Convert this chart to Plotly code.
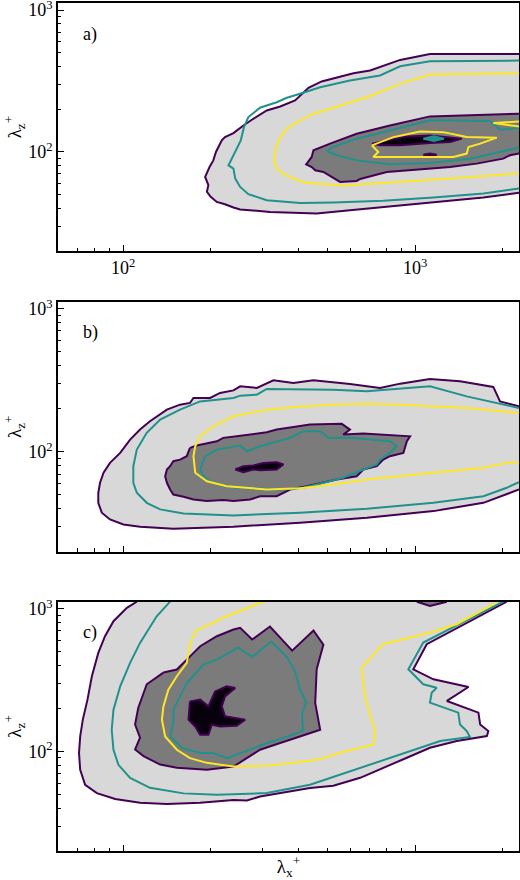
import plotly.graph_objects as go
from plotly.subplots import make_subplots

# ---------------- data (log10 of lambda_x^+, log10 of lambda_z^+) ----------------
# Panel a
A_OUTER_LX = [3.356, 3.051, 2.949, 2.846, 2.789, 2.680, 2.635, 2.589, 2.538, 2.492, 2.446, 2.412, 2.378, 2.349, 2.338, 2.318, 2.309, 2.296, 2.281, 2.292, 2.287, 2.300, 2.321, 2.349, 2.378, 2.401, 2.503, 2.663, 2.777, 2.891, 3.006, 3.120, 3.234, 3.356]
A_OUTER_LZ = [2.691, 2.691, 2.649, 2.574, 2.555, 2.497, 2.452, 2.363, 2.321, 2.293, 2.234, 2.187, 2.133, 2.105, 2.082, 2.000, 1.941, 1.894, 1.824, 1.766, 1.719, 1.684, 1.648, 1.632, 1.609, 1.595, 1.578, 1.567, 1.590, 1.613, 1.632, 1.656, 1.679, 1.712]
A_TEAL1_LX = [3.356, 3.051, 2.949, 2.880, 2.777, 2.675, 2.606, 2.561, 2.526, 2.469, 2.429, 2.414, 2.403, 2.384, 2.372, 2.361, 2.378, 2.384, 2.401, 2.429, 2.492, 2.606, 2.720, 2.891, 3.063, 3.234, 3.356]
A_TEAL1_LZ = [2.644, 2.639, 2.604, 2.539, 2.504, 2.456, 2.410, 2.382, 2.351, 2.312, 2.246, 2.175, 2.082, 2.000, 1.953, 1.906, 1.883, 1.813, 1.754, 1.703, 1.660, 1.641, 1.644, 1.656, 1.679, 1.708, 1.743]
A_YEL1_LX = [3.356, 3.051, 2.949, 2.835, 2.720, 2.652, 2.606, 2.561, 2.538, 2.524, 2.517, 2.526, 2.549, 2.583, 2.629, 2.754, 2.891, 3.063, 3.234, 3.356]
A_YEL1_LZ = [2.555, 2.546, 2.480, 2.386, 2.312, 2.270, 2.223, 2.164, 2.105, 2.035, 1.941, 1.883, 1.848, 1.813, 1.782, 1.764, 1.782, 1.808, 1.831, 1.848]
A_DARK_LX = [3.356, 3.051, 2.914, 2.800, 2.709, 2.652, 2.646, 2.627, 2.646, 2.658, 2.686, 2.720, 2.743, 2.800, 2.812, 2.903, 3.006, 3.120, 3.211, 3.302, 3.325, 3.356]
A_DARK_LZ = [2.270, 2.251, 2.187, 2.129, 2.059, 2.012, 1.965, 1.913, 1.894, 1.871, 1.859, 1.820, 1.789, 1.796, 1.810, 1.859, 1.876, 1.894, 1.918, 1.953, 1.977, 1.989]
A_TEAL2_LX = [3.356, 3.291, 3.257, 3.051, 2.914, 2.800, 2.720, 2.698, 2.732, 2.800, 2.914, 3.051, 3.188, 3.291, 3.356]
A_TEAL2_LZ = [2.171, 2.157, 2.218, 2.223, 2.152, 2.094, 2.035, 2.007, 1.977, 1.941, 1.913, 1.923, 1.953, 2.000, 2.031]
A_BLACK_LX = [2.852, 2.914, 2.972, 3.051, 3.120, 3.160, 3.120, 3.051, 2.949, 2.880]
A_BLACK_LZ = [2.059, 2.087, 2.110, 2.117, 2.105, 2.094, 2.070, 2.063, 2.047, 2.047]
A_TEALDOT_LX = [3.028, 3.064, 3.099, 3.064]
A_TEALDOT_LZ = [2.094, 2.110, 2.094, 2.077]
A_BLACKDOT_LX = [3.028, 3.051, 3.074, 3.051]
A_BLACKDOT_LZ = [1.980, 1.990, 1.980, 1.969]
A_YEL2_LX = [2.852, 2.926, 3.017, 3.097, 3.177, 3.280, 3.223, 3.183, 3.177, 3.131, 2.857, 2.874]
A_YEL2_LZ = [2.047, 2.105, 2.145, 2.140, 2.105, 2.101, 2.059, 2.035, 1.989, 1.965, 1.965, 2.000]
A_YEL3_LX = [3.356, 3.268, 3.356]
A_YEL3_LZ = [2.215, 2.204, 2.180]

# Panel b
B_OUTER_LX = [3.356, 3.291, 3.268, 3.154, 3.051, 2.949, 2.880, 2.777, 2.652, 2.583, 2.515, 2.458, 2.401, 2.378, 2.332, 2.298, 2.241, 2.229, 2.195, 2.150, 2.092, 2.058, 2.024, 1.990, 1.955, 1.933, 1.921, 1.915, 1.915, 1.927, 1.955, 2.001, 2.058, 2.172, 2.378, 2.606, 2.835, 3.063, 3.234, 3.314, 3.356]
B_OUTER_LZ = [2.318, 2.353, 2.454, 2.493, 2.510, 2.477, 2.447, 2.475, 2.500, 2.482, 2.500, 2.447, 2.458, 2.430, 2.412, 2.377, 2.377, 2.342, 2.330, 2.295, 2.214, 2.156, 2.086, 1.993, 1.923, 1.854, 1.784, 1.714, 1.644, 1.575, 1.528, 1.493, 1.477, 1.463, 1.477, 1.505, 1.540, 1.586, 1.644, 1.702, 1.737]
B_TEAL1_LX = [3.356, 3.177, 3.051, 2.949, 2.835, 2.720, 2.606, 2.492, 2.458, 2.401, 2.378, 2.264, 2.195, 2.127, 2.081, 2.047, 2.035, 2.035, 2.047, 2.081, 2.127, 2.207, 2.378, 2.606, 2.835, 3.063, 3.234, 3.314, 3.356]
B_TEAL1_LZ = [2.307, 2.388, 2.458, 2.440, 2.423, 2.435, 2.435, 2.440, 2.400, 2.393, 2.377, 2.353, 2.295, 2.226, 2.133, 2.016, 1.900, 1.784, 1.714, 1.644, 1.598, 1.570, 1.556, 1.575, 1.603, 1.644, 1.690, 1.749, 1.788]
B_YEL1_LX = [3.356, 3.177, 2.949, 2.835, 2.720, 2.606, 2.492, 2.378, 2.309, 2.264, 2.247, 2.241, 2.247, 2.287, 2.355, 2.492, 2.606, 2.720, 2.835, 3.063, 3.234, 3.314, 3.356]
B_YEL1_LZ = [2.272, 2.307, 2.330, 2.337, 2.330, 2.318, 2.295, 2.249, 2.179, 2.109, 2.039, 1.970, 1.854, 1.795, 1.760, 1.737, 1.746, 1.772, 1.807, 1.854, 1.889, 1.923, 1.928]
B_DARK_LX = [2.229, 2.252, 2.321, 2.343, 2.389, 2.435, 2.492, 2.526, 2.583, 2.640, 2.749, 2.777, 2.754, 2.823, 2.983, 2.972, 2.960, 2.914, 2.891, 2.869, 2.823, 2.800, 2.732, 2.686, 2.629, 2.572, 2.549, 2.526, 2.469, 2.435, 2.378, 2.343, 2.287, 2.241, 2.207, 2.172, 2.161, 2.150, 2.144, 2.150, 2.161, 2.172, 2.195, 2.218]
B_DARK_LZ = [2.028, 2.044, 2.074, 2.098, 2.109, 2.121, 2.137, 2.156, 2.175, 2.191, 2.196, 2.156, 2.121, 2.128, 2.109, 2.074, 1.993, 1.970, 1.946, 1.900, 1.877, 1.830, 1.807, 1.784, 1.760, 1.737, 1.714, 1.690, 1.690, 1.667, 1.656, 1.663, 1.656, 1.667, 1.686, 1.702, 1.737, 1.784, 1.830, 1.877, 1.900, 1.935, 1.946, 1.970]
B_TEAL2_LX = [2.264, 2.281, 2.321, 2.401, 2.424, 2.469, 2.572, 2.617, 2.675, 2.703, 2.777, 2.914, 2.937, 2.914, 2.880, 2.869, 2.823, 2.754, 2.686, 2.617, 2.549, 2.469, 2.389, 2.343, 2.298, 2.275, 2.264]
B_TEAL2_LZ = [1.877, 1.970, 2.016, 2.044, 2.004, 2.039, 2.098, 2.144, 2.144, 2.098, 2.098, 2.074, 2.039, 1.993, 1.946, 1.912, 1.877, 1.819, 1.784, 1.749, 1.737, 1.742, 1.749, 1.760, 1.795, 1.830, 1.877]
B_BLACK_LX = [2.384, 2.412, 2.446, 2.480, 2.526, 2.549, 2.526, 2.469, 2.446, 2.412]
B_BLACK_LZ = [1.877, 1.900, 1.905, 1.923, 1.928, 1.912, 1.877, 1.872, 1.877, 1.858]

# Panel c
C_OUTER_LX = [3.314, 3.040, 2.994, 3.063, 3.183, 3.109, 3.217, 3.223, 3.251, 3.246, 3.143, 3.051, 2.972, 2.891, 2.812, 2.720, 2.640, 2.469, 2.424, 2.378, 2.264, 2.150, 2.058, 1.973, 1.910, 1.870, 1.853, 1.849, 1.853, 1.862, 1.878, 1.893, 1.915, 1.938, 1.967, 2.013, 2.047]
C_OUTER_LZ = [3.050, 2.752, 2.576, 2.506, 2.452, 2.354, 2.272, 2.189, 2.143, 2.108, 2.073, 2.026, 1.956, 1.885, 1.815, 1.759, 1.743, 1.684, 1.656, 1.660, 1.641, 1.632, 1.641, 1.667, 1.708, 1.766, 1.871, 1.989, 2.105, 2.223, 2.363, 2.527, 2.691, 2.808, 2.913, 3.007, 3.050]
C_TEAL1_LX = [2.161, 2.115, 2.058, 2.024, 1.990, 1.967, 1.961, 1.967, 1.984, 2.024, 2.092, 2.207, 2.321, 2.492, 2.640, 2.743, 2.880, 3.017, 3.086, 3.188, 3.177, 3.154, 3.148, 3.051, 3.057, 3.074, 3.028, 2.977, 3.028, 3.302]
C_TEAL1_LZ = [3.050, 2.948, 2.761, 2.621, 2.456, 2.293, 2.152, 2.012, 1.906, 1.815, 1.745, 1.706, 1.696, 1.708, 1.766, 1.838, 1.932, 2.026, 2.073, 2.101, 2.143, 2.189, 2.272, 2.342, 2.412, 2.447, 2.471, 2.576, 2.763, 3.050]
C_YEL1_LX = [2.480, 2.355, 2.247, 2.229, 2.218, 2.184, 2.155, 2.138, 2.133, 2.144, 2.184, 2.229, 2.287, 2.378, 2.492, 2.663, 2.743, 2.857, 2.863, 2.829, 2.817, 2.891, 3.051, 3.143, 3.280]
C_YEL1_LZ = [3.050, 2.948, 2.843, 2.749, 2.621, 2.527, 2.433, 2.316, 2.223, 2.105, 2.012, 1.953, 1.920, 1.894, 1.899, 1.941, 1.991, 2.049, 2.143, 2.377, 2.588, 2.752, 2.834, 2.892, 3.045]
C_DARK_LX = [2.138, 2.184, 2.218, 2.264, 2.321, 2.378, 2.401, 2.442, 2.503, 2.579, 2.652, 2.686, 2.663, 2.658, 2.675, 2.606, 2.538, 2.469, 2.378, 2.287, 2.184, 2.127, 2.070, 2.041, 2.058, 2.041, 2.052, 2.081, 2.138]
C_DARK_LZ = [2.553, 2.574, 2.644, 2.738, 2.808, 2.855, 2.867, 2.785, 2.876, 2.707, 2.848, 2.749, 2.576, 2.340, 2.152, 2.103, 2.059, 2.012, 1.894, 1.871, 1.885, 1.908, 1.967, 2.014, 2.096, 2.189, 2.307, 2.471, 2.553]
C_TEAL2_LX = [2.172, 2.172, 2.195, 2.218, 2.275, 2.321, 2.394, 2.442, 2.507, 2.562, 2.589, 2.606, 2.627, 2.613, 2.616, 2.562, 2.493, 2.418, 2.356, 2.308, 2.264, 2.202, 2.161, 2.172]
C_TEAL2_LZ = [2.199, 2.293, 2.386, 2.480, 2.609, 2.644, 2.728, 2.662, 2.771, 2.658, 2.560, 2.433, 2.342, 2.265, 2.145, 2.103, 2.059, 1.998, 1.953, 1.989, 1.989, 2.024, 2.105, 2.199]
C_BLACK_LX = [2.229, 2.264, 2.292, 2.315, 2.355, 2.384, 2.349, 2.338, 2.349, 2.418, 2.389, 2.332, 2.304, 2.292, 2.264, 2.247, 2.224]
C_BLACK_LZ = [2.351, 2.363, 2.316, 2.421, 2.456, 2.445, 2.386, 2.316, 2.246, 2.223, 2.180, 2.175, 2.187, 2.117, 2.117, 2.175, 2.223]
C_BUMP_LX = [3.006, 3.051, 3.109]
C_BUMP_LZ = [3.050, 3.020, 3.050]

PANEL_LABELS = ["a)", "b)", "c)"]
MAJOR_TICKS = [100, 1000]
MAJOR_TEXT = ["10<sup>2</sup>", "10<sup>3</sup>"]
MINOR_TICKS = [m * 10 ** e for e in (1, 2, 3) for m in range(2, 10)]
X_RANGE_LOG = [1.777, 3.356]
Z_RANGE_LOG = [1.302, 3.050]

# ---------------- style ----------------
LIGHT = "#d8d8d8"
DARK = "#7b7b7b"
BLACK = "#08000c"
PURPLE = "#440154"
TEAL = "#21918c"
YELLOW = "#fde725"
LW = 2.0
FONT = "Liberation Serif"

fig = make_subplots(rows=3, cols=1)


def pts(lx, lz, close=False):
    x = [10 ** v for v in lx]
    y = [10 ** v for v in lz]
    if close:
        x = x + x[:1]
        y = y + y[:1]
    return x, y


def region(row, lx, lz, color):
    x, y = pts(lx, lz, close=True)
    fig.add_trace(go.Scatter(x=x, y=y, mode="lines", fill="toself", fillcolor=color,
                             line=dict(width=0, color=color), hoverinfo="skip",
                             showlegend=False), row=row, col=1)


def line(row, lx, lz, color, close=False, fill=None):
    x, y = pts(lx, lz, close=close)
    fig.add_trace(go.Scatter(x=x, y=y, mode="lines",
                             line=dict(width=LW, color=color),
                             fill="toself" if fill else None, fillcolor=fill,
                             hoverinfo="skip", showlegend=False), row=row, col=1)


# panel a
region(1, A_OUTER_LX, A_OUTER_LZ, LIGHT)
region(1, A_DARK_LX, A_DARK_LZ, DARK)
region(1, A_BLACK_LX, A_BLACK_LZ, BLACK)
line(1, A_OUTER_LX, A_OUTER_LZ, PURPLE)
line(1, A_DARK_LX, A_DARK_LZ, PURPLE)
line(1, A_BLACK_LX, A_BLACK_LZ, PURPLE, close=True)
line(1, A_BLACKDOT_LX, A_BLACKDOT_LZ, PURPLE, close=True, fill=BLACK)
line(1, A_TEAL1_LX, A_TEAL1_LZ, TEAL)
line(1, A_TEAL2_LX, A_TEAL2_LZ, TEAL)
line(1, A_TEALDOT_LX, A_TEALDOT_LZ, TEAL, close=True, fill=TEAL)
line(1, A_YEL1_LX, A_YEL1_LZ, YELLOW)
line(1, A_YEL2_LX, A_YEL2_LZ, YELLOW, close=True)
line(1, A_YEL3_LX, A_YEL3_LZ, YELLOW)

# panel b
region(2, B_OUTER_LX, B_OUTER_LZ, LIGHT)
region(2, B_DARK_LX, B_DARK_LZ, DARK)
region(2, B_BLACK_LX, B_BLACK_LZ, BLACK)
line(2, B_OUTER_LX, B_OUTER_LZ, PURPLE)
line(2, B_DARK_LX, B_DARK_LZ, PURPLE, close=True)
line(2, B_BLACK_LX, B_BLACK_LZ, PURPLE, close=True)
line(2, B_TEAL1_LX, B_TEAL1_LZ, TEAL)
line(2, B_TEAL2_LX, B_TEAL2_LZ, TEAL, close=True)
line(2, B_YEL1_LX, B_YEL1_LZ, YELLOW)

# panel c
region(3, C_OUTER_LX, C_OUTER_LZ, LIGHT)
region(3, C_DARK_LX, C_DARK_LZ, DARK)
region(3, C_BLACK_LX, C_BLACK_LZ, BLACK)
line(3, C_OUTER_LX, C_OUTER_LZ, PURPLE)
line(3, C_DARK_LX, C_DARK_LZ, PURPLE, close=True)
line(3, C_BLACK_LX, C_BLACK_LZ, PURPLE, close=True)
line(3, C_BUMP_LX, C_BUMP_LZ, PURPLE, fill=DARK)
line(3, C_TEAL1_LX, C_TEAL1_LZ, TEAL)
line(3, C_TEAL2_LX, C_TEAL2_LZ, TEAL, close=True)
line(3, C_YEL1_LX, C_YEL1_LZ, YELLOW)

domains = [[0.7075, 1.0], [0.3529, 0.6478], [0.0, 0.2940]]
tickfont = dict(family=FONT, size=18, color="black")
for i in range(3):
    n = "" if i == 0 else str(i + 1)
    fig.layout["xaxis" + n].update(
        type="log", range=X_RANGE_LOG, showgrid=False, zeroline=False,
        showline=True, mirror=True, linecolor="black", linewidth=1.6,
        ticks="inside", ticklen=6, tickwidth=1, tickcolor="black",
        tickmode="array", tickvals=MAJOR_TICKS, ticktext=MAJOR_TEXT,
        showticklabels=(i == 0), tickfont=tickfont, ticklabeloverflow="allow",
        minor=dict(ticks="inside", ticklen=3.5, tickwidth=0.8, tickcolor="black",
                   tickmode="array", tickvals=MINOR_TICKS, showgrid=False),
        automargin=False,
    )
    fig.layout["yaxis" + n].update(
        type="log", range=Z_RANGE_LOG, domain=domains[i], showgrid=False, zeroline=False,
        showline=True, mirror=True, linecolor="black", linewidth=1.6,
        ticks="inside", ticklen=6, tickwidth=1, tickcolor="black",
        tickmode="array", tickvals=MAJOR_TICKS, ticktext=MAJOR_TEXT,
        tickfont=tickfont, ticklabeloverflow="allow",
        minor=dict(ticks="inside", ticklen=3.5, tickwidth=0.8, tickcolor="black",
                   tickmode="array", tickvals=MINOR_TICKS, showgrid=False),
        title=dict(text="λ<sub>z</sub><sup>+</sup>", font=dict(family=FONT, size=19, color="black"),
                   standoff=2),
        automargin=False,
    )
    fig.add_annotation(text=PANEL_LABELS[i], xref="x" + n + " domain", yref="y" + n + " domain",
                       x=0.05, y=0.875, xanchor="left", yanchor="middle", showarrow=False,
                       font=dict(family=FONT, size=18, color="black"))

fig.layout["xaxis3"].update(title=dict(text="λ<sub>x</sub><sup>+</sup>",
                                       font=dict(family=FONT, size=19, color="black"),
                                       standoff=14))

fig.update_layout(width=520, height=880, margin=dict(l=58, r=1, t=3, b=29),
                  plot_bgcolor="white", paper_bgcolor="white", showlegend=False)

fig.write_html("out.html", config={"displayModeBar": False},
               post_script="document.body.style.margin='0px';document.body.style.overflow='hidden';")
